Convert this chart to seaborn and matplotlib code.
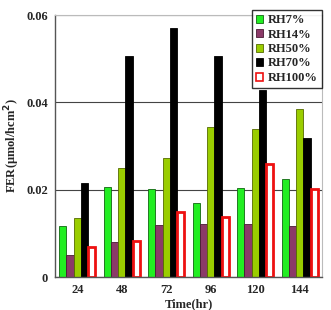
import matplotlib
matplotlib.use("Agg")
import matplotlib.pyplot as plt
import numpy as np
import pandas as pd
import seaborn as sns

times = ["24", "48", "72", "96", "120", "144"]
series_names = ["RH7%", "RH14%", "RH50%", "RH70%", "RH100%"]
rh7 = [0.0117, 0.0205, 0.0201, 0.0170, 0.0203, 0.0224]
rh14 = [0.0050, 0.0081, 0.0120, 0.0122, 0.0122, 0.0117]
rh50 = [0.0136, 0.0250, 0.0272, 0.0344, 0.0338, 0.0384]
rh70 = [0.0216, 0.0507, 0.0570, 0.0507, 0.0429, 0.0319]
rh100 = [0.0068, 0.0083, 0.0149, 0.0137, 0.0258, 0.0201]

colors = ["#22ee22", "#8b3a68", "#9acd00", "#000000", "#ffffff"]
edges = ["#116611", "#4a1a35", "#556b00", "#000000", "#ee1111"]

rows = []
for name, vals in zip(series_names, [rh7, rh14, rh50, rh70, rh100]):
    for t, v in zip(times, vals):
        rows.append({"time": t, "series": name, "fer": v})
df = pd.DataFrame(rows)

sns.set_theme(style="white")
plt.rcParams["font.family"] = ["Liberation Serif", "DejaVu Serif"]
plt.rcParams["font.weight"] = "bold"

fig = plt.figure(figsize=(3.31, 3.10), dpi=100)
ax = fig.add_axes([55 / 331, 1 - 277 / 310, 267 / 331, 262 / 310])

sns.barplot(data=df, x="time", y="fer", hue="series", order=times,
            hue_order=series_names, palette=colors, width=0.82,
            ax=ax, legend=False)

for cont, fc, ec in zip(ax.containers, colors, edges):
    for bar in cont:
        bar.set_facecolor(fc)
        bar.set_edgecolor(ec)
        bar.set_linewidth(2.0 if ec == "#ee1111" else 0.6)

ax.set_ylim(0, 0.06)
ax.set_yticks([0, 0.02, 0.04, 0.06])
ax.set_yticklabels(["0", "0.02", "0.04", "0.06"])
ax.yaxis.grid(True, color="#444444", linewidth=0.8)
ax.set_axisbelow(True)
for side in ["top", "right"]:
    ax.spines[side].set_color("#bbbbbb")
    ax.spines[side].set_linewidth(0.8)
for side in ["left", "bottom"]:
    ax.spines[side].set_color("#555555")
    ax.spines[side].set_linewidth(1.0)
ax.tick_params(axis="both", labelsize=9, length=2, pad=3)
for lab in ax.get_xticklabels() + ax.get_yticklabels():
    lab.set_fontweight("bold")

ax.set_xlabel("Time(hr)", fontsize=9, fontweight="bold", labelpad=2)
ax.set_ylabel("FER(\u03bcmol/hcm$^2$)", fontsize=9, fontweight="bold", labelpad=3)

handles = [plt.Rectangle((0, 0), 1, 1, facecolor=fc, edgecolor=ec,
                         linewidth=1.2 if ec == "#ee1111" else 0.6)
           for fc, ec in zip(colors, edges)]
leg = fig.legend(handles, series_names, loc="upper right",
                 bbox_to_anchor=(328 / 331, 1 - 4 / 310), frameon=True,
                 fancybox=False, edgecolor="black",
                 prop={"weight": "bold", "size": 9}, handlelength=0.6,
                 handleheight=0.6, handletextpad=0.4, labelspacing=0.2,
                 borderpad=0.3)
leg.get_frame().set_linewidth(1.0)

fig.savefig("out.png", dpi=100)
